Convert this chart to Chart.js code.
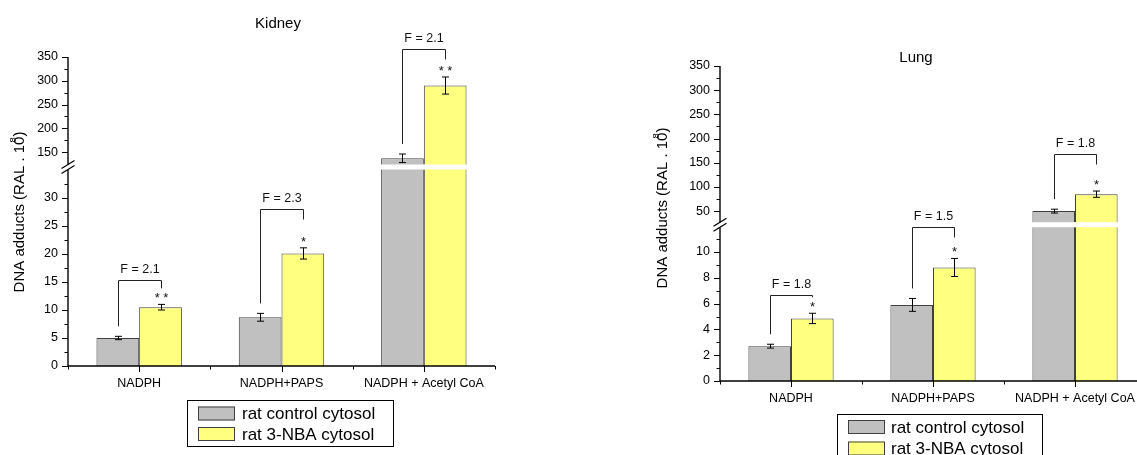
<!DOCTYPE html>
<html>
<head>
<meta charset="utf-8">
<script src="https://cdn.jsdelivr.net/npm/chart.js@4.4.1/dist/chart.umd.min.js"></script>
<style>
  html, body { margin: 0; padding: 0; background: #fff; overflow: hidden; width: 1137px; height: 455px; }
  canvas { position: absolute; left: 0; top: 0; }
</style>
</head>
<body>
<canvas id="kidney" width="1137" height="455"></canvas>
<canvas id="lung" width="1200" height="455"></canvas>
<script>
const FONT = 'Arial, "Liberation Sans", sans-serif';

const groups = ['NADPH', 'NADPH+PAPS', 'NADPH + Acetyl CoA'];
const seriesNames = ['rat control cytosol', 'rat 3-NBA cytosol'];

// kidney
const kidneyControl = [5.0, 8.7, 137];
const kidneyControlErr = [0.3, 0.7, 9];
const kidneyNba = [10.5, 20.1, 290];
const kidneyNbaErr = [0.5, 1.0, 18];
const kidneyFold = ['F = 2.1', 'F = 2.3', 'F = 2.1'];
const kidneyStars = ['* *', '*', '* *'];
const kidneyBracket = [15.4, 28, 367];
const kidneyTicks = [0, 5, 10, 15, 20, 25, 30, 150, 200, 250, 300, 350];

// lung
const lungControl = [2.7, 5.9, 50];
const lungControlErr = [0.15, 0.5, 4];
const lungNba = [4.85, 8.8, 85];
const lungNbaErr = [0.4, 0.7, 6.5];
const lungFold = ['F = 1.8', 'F = 1.5', 'F = 1.8'];
const lungStars = ['*', '*', '*'];
const lungBracket = [6.7, 11.9, 168];
const lungTicks = [0, 2, 4, 6, 8, 10, 50, 100, 150, 200, 250, 300, 350];

const barColors = ['#c0c0c0', '#ffff80'];

const BREAKS = {
    kidney: { lowMax: 35, highMin: 125, highMax: 350, lowFrac: 196 / 309, gapFrac: 6 / 309 },
    lung: { lowMax: 12, highMin: 25, highMax: 350, lowFrac: 154.8 / 315, gapFrac: 3 / 315 },
};

// linear scale with a gap between a low and a high segment
class BrokenScale extends Chart.LinearScale {
    static id = 'broken';
    static defaults = Chart.LinearScale.defaults;

    brk() {
        return BREAKS[this.chart.canvas.id];
    }

    fracOf(v) {
        const b = this.brk();
        if (v <= b.lowMax) return (v / b.lowMax) * b.lowFrac;
        if (v < b.highMin) return b.lowFrac + ((v - b.lowMax) / (b.highMin - b.lowMax)) * b.gapFrac;
        return b.lowFrac + b.gapFrac + ((v - b.highMin) / (b.highMax - b.highMin)) * (1 - b.lowFrac - b.gapFrac);
    }

    getPixelForValue(v) {
        if (v === null || v === undefined) return NaN;
        return this.bottom - this.fracOf(v) * (this.bottom - this.top);
    }

    getValueForPixel(p) {
        const b = this.brk();
        const f = (this.bottom - p) / (this.bottom - this.top);
        if (f <= b.lowFrac) return (f / b.lowFrac) * b.lowMax;
        if (f <= b.lowFrac + b.gapFrac) return b.lowMax + ((f - b.lowFrac) / b.gapFrac) * (b.highMin - b.lowMax);
        return b.highMin + ((f - b.lowFrac - b.gapFrac) / (1 - b.lowFrac - b.gapFrac)) * (b.highMax - b.highMin);
    }
}
Chart.register(BrokenScale);

Chart.defaults.font.family = FONT;
Chart.defaults.color = '#000';

function minorTicks(major, b) {
    const low = major.filter((v) => v <= b.lowMax);
    const high = major.filter((v) => v >= b.highMin);
    const out = [];
    [low, high].forEach((seg) => {
        for (let k = 1; k < seg.length; k++) out.push((seg[k - 1] + seg[k]) / 2);
    });
    const half = (low[1] - low[0]) / 2;
    if (low[low.length - 1] + half < b.lowMax) out.push(low[low.length - 1] + half);
    return out;
}

function line(ctx, x1, y1, x2, y2) {
    ctx.beginPath();
    ctx.moveTo(x1, y1);
    ctx.lineTo(x2, y2);
    ctx.stroke();
}

function decor(cfg) {
    return {
        id: 'decor',
        afterDraw(chart) {
            const { ctx, chartArea: a, scales: { x, y } } = chart;
            const b = BREAKS[cfg.id];
            const mid = (y.getPixelForValue(b.lowMax) + y.getPixelForValue(b.highMin)) / 2;
            const bars = [0, 1].map((d) => chart.getDatasetMeta(d).data);
            const values = [cfg.control, cfg.nba];
            const errs = [cfg.controlErr, cfg.nbaErr];

            ctx.save();

            // white cut across bars that pass the break
            ctx.fillStyle = '#fff';
            bars.forEach((list, d) => list.forEach((bar, i) => {
                if (values[d][i] > b.lowMax) ctx.fillRect(bar.x - bar.width / 2 - 1, mid - 2.5, bar.width + 2, 5);
            }));

            // error bars
            ctx.strokeStyle = '#000';
            ctx.lineWidth = 1;
            bars.forEach((list, d) => list.forEach((bar, i) => {
                const top = y.getPixelForValue(values[d][i] + errs[d][i]);
                const bot = y.getPixelForValue(values[d][i] - errs[d][i]);
                const cx = Math.round(bar.x) + 0.5;
                line(ctx, cx, top, cx, bot);
                line(ctx, cx - 3.5, top, cx + 3.5, top);
                line(ctx, cx - 3.5, bot, cx + 3.5, bot);
            }));

            // brackets, fold labels, stars
            ctx.strokeStyle = '#222';
            ctx.fillStyle = '#111';
            ctx.textAlign = 'center';
            groups.forEach((g, i) => {
                const xl = Math.round(bars[0][i].x) + 0.5;
                const xr = Math.round(bars[1][i].x) + 0.5;
                const yt = Math.round(y.getPixelForValue(cfg.bracket[i])) + 0.5;
                const leftEnd = y.getPixelForValue(cfg.control[i] + cfg.controlErr[i]) - 10;
                const starY = y.getPixelForValue(cfg.nba[i] + cfg.nbaErr[i]) - 9;
                const rightEnd = Math.min(yt + 10, starY - 7);
                ctx.beginPath();
                ctx.moveTo(xl, leftEnd);
                ctx.lineTo(xl, yt);
                ctx.lineTo(xr, yt);
                ctx.lineTo(xr, rightEnd);
                ctx.stroke();

                ctx.font = `12.5px ${FONT}`;
                ctx.textBaseline = 'middle';
                ctx.fillText(cfg.fold[i], (xl + xr) / 2, yt - 11);

                ctx.font = `13px ${FONT}`;
                ctx.textBaseline = 'alphabetic';
                ctx.fillText(cfg.stars[i], xr, starY + 7);
            });

            // axes
            ctx.strokeStyle = '#000';
            ctx.lineWidth = 1.4;
            line(ctx, a.left, a.bottom, a.right, a.bottom);
            line(ctx, a.left, a.bottom, a.left, mid + 2.5);
            line(ctx, a.left, mid - 2.5, a.left, a.top);

            ctx.lineWidth = 1;
            cfg.ticks.forEach((v) => {
                const py = Math.round(y.getPixelForValue(v)) + 0.5;
                line(ctx, a.left - 6, py, a.left, py);
            });
            minorTicks(cfg.ticks, b).forEach((v) => {
                const py = Math.round(y.getPixelForValue(v)) + 0.5;
                line(ctx, a.left - 3.5, py, a.left, py);
            });
            groups.forEach((g, i) => {
                const px = Math.round(x.getPixelForValue(i)) + 0.5;
                line(ctx, px, a.bottom, px, a.bottom + 6);
            });
            for (let k = 0; k <= groups.length; k++) {
                const px = Math.round(a.left + (k * (a.right - a.left)) / groups.length) + 0.5;
                line(ctx, px, a.bottom, px, a.bottom + 3.5);
            }

            // break marks
            ctx.lineWidth = 1.2;
            [mid - 2.5, mid + 2.5].forEach((py) => line(ctx, a.left - 6.5, py + 4, a.left + 6.5, py - 4));

            // panel title
            ctx.fillStyle = '#000';
            ctx.font = `15px ${FONT}`;
            ctx.textAlign = 'center';
            ctx.textBaseline = 'middle';
            ctx.fillText(cfg.title, cfg.titleX, cfg.titleY);

            // y axis title with superscript
            ctx.save();
            ctx.translate(cfg.yTitleX, cfg.yTitleY);
            ctx.rotate(-Math.PI / 2);
            ctx.textAlign = 'left';
            ctx.font = `15px ${FONT}`;
            const main = 'DNA adducts (RAL . 10';
            const wMain = ctx.measureText(main).width;
            const w0 = ctx.measureText('0').width;
            const sx = -(wMain + ctx.measureText(')').width) / 2;
            ctx.fillText(main, sx, 0);
            ctx.fillText(')', sx + wMain, 0);
            ctx.font = `9.5px ${FONT}`;
            ctx.fillText('8', sx + wMain - w0 * 0.7, -6.5);
            ctx.restore();

            // legend
            const L = cfg.legend;
            ctx.lineWidth = 1;
            ctx.strokeStyle = '#000';
            ctx.strokeRect(L.x + 0.5, L.y + 0.5, L.w, L.h);
            seriesNames.forEach((name, d) => {
                const cy = L.rows[d];
                ctx.fillStyle = barColors[d];
                ctx.fillRect(L.swX, cy - 7, 37, 14);
                ctx.strokeStyle = '#404040';
                ctx.strokeRect(L.swX + 0.5, cy - 6.5, 36, 13);
                ctx.fillStyle = '#000';
                ctx.font = `17px ${FONT}`;
                ctx.textAlign = 'left';
                ctx.textBaseline = 'middle';
                ctx.fillText(name, L.textX, cy + 1);
            });

            ctx.restore();
        },
    };
}

function makeChart(cfg) {
    return new Chart(document.getElementById(cfg.id), {
        type: 'bar',
        data: {
            labels: groups,
            datasets: [
                { label: seriesNames[0], data: cfg.control, backgroundColor: barColors[0], borderColor: '#404040', borderWidth: 1 },
                { label: seriesNames[1], data: cfg.nba, backgroundColor: barColors[1], borderColor: '#404040', borderWidth: 1 },
            ],
        },
        options: {
            responsive: false,
            animation: false,
            events: [],
            layout: { padding: cfg.padding },
            datasets: { bar: { categoryPercentage: 0.6, barPercentage: 1 } },
            plugins: { legend: { display: false }, tooltip: { enabled: false } },
            scales: {
                x: {
                    type: 'category',
                    grid: { display: false, drawTicks: true, tickLength: 5 },
                    border: { display: false },
                    ticks: { font: { size: 12.5 }, color: '#000', padding: 5, maxRotation: 0, autoSkip: false },
                    afterFit: (s) => { s.height = cfg.xHeight; },
                },
                y: {
                    type: 'broken',
                    min: 0,
                    max: BREAKS[cfg.id].highMax,
                    grid: { display: false, drawTicks: true, tickLength: 6 },
                    border: { display: false },
                    ticks: { font: { size: 12.5 }, color: '#000', padding: 4, autoSkip: false, callback: (v) => String(v) },
                    afterBuildTicks: (s) => { s.ticks = cfg.ticks.map((v) => ({ value: v })); },
                    afterFit: (s) => { s.width = cfg.yWidth; },
                },
            },
        },
        plugins: [decor(cfg)],
    });
}

makeChart({
    id: 'kidney',
    control: kidneyControl, controlErr: kidneyControlErr,
    nba: kidneyNba, nbaErr: kidneyNbaErr,
    fold: kidneyFold, stars: kidneyStars, bracket: kidneyBracket, ticks: kidneyTicks,
    padding: { left: 0, top: 57, right: 642, bottom: 0 },
    yWidth: 68, xHeight: 89,
    title: 'Kidney', titleX: 278, titleY: 24,
    yTitleX: 20, yTitleY: 212,
    legend: { x: 187, y: 400, w: 206, h: 46, swX: 198, textX: 242, rows: [413.5, 434] },
});

makeChart({
    id: 'lung',
    control: lungControl, controlErr: lungControlErr,
    nba: lungNba, nbaErr: lungNbaErr,
    fold: lungFold, stars: lungStars, bracket: lungBracket, ticks: lungTicks,
    padding: { left: 0, top: 66, right: 54, bottom: 0 },
    yWidth: 720, xHeight: 74,
    title: 'Lung', titleX: 916, titleY: 58,
    yTitleX: 663, yTitleY: 208,
    legend: { x: 837, y: 414, w: 205, h: 50, swX: 848, textX: 891, rows: [427, 448.5] },
});
</script>
</body>
</html>
